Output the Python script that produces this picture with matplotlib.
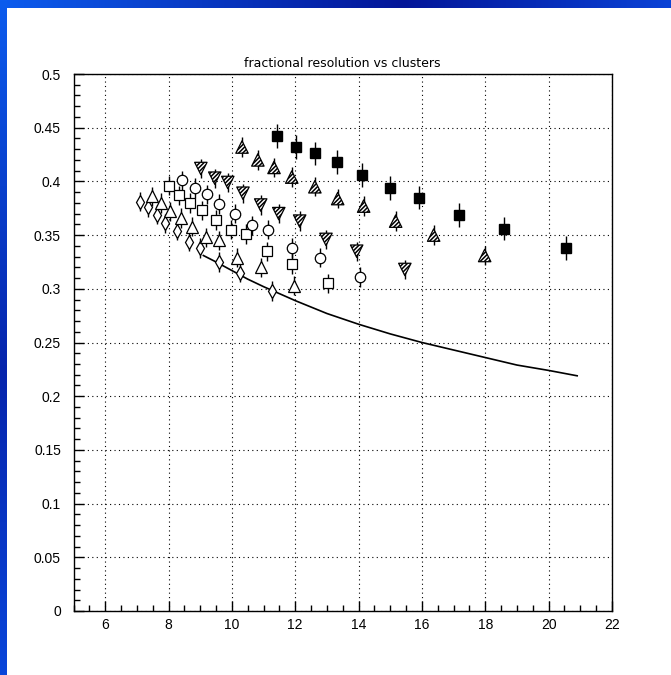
import matplotlib
matplotlib.use("Agg")
import matplotlib.pyplot as plt
import numpy as np

# values
sq_full_x = [11.42, 12.02, 12.62, 13.31, 14.10, 14.98, 15.90, 17.16, 18.58, 20.54]
sq_full_y = [0.442, 0.432, 0.426, 0.418, 0.406, 0.394, 0.385, 0.369, 0.356, 0.338]

tri_up_h_x = [10.32, 10.82, 11.33, 11.89, 12.62, 13.34, 14.16, 15.17, 16.37, 17.98]
tri_up_h_y = [0.432, 0.420, 0.413, 0.404, 0.395, 0.384, 0.377, 0.363, 0.350, 0.331]

tri_dn_h_x = [9.02, 9.46, 9.87, 10.35, 10.91, 11.48, 12.14, 12.97, 13.94, 15.46]
tri_dn_h_y = [0.412, 0.403, 0.399, 0.389, 0.378, 0.370, 0.363, 0.346, 0.335, 0.318]

circ_x = [8.42, 8.83, 9.21, 9.59, 10.09, 10.63, 11.14, 11.89, 12.78, 14.04]
circ_y = [0.401, 0.394, 0.388, 0.379, 0.370, 0.359, 0.355, 0.338, 0.329, 0.311]

sq_open_x = [8.01, 8.33, 8.67, 9.05, 9.50, 9.97, 10.44, 11.10, 11.89, 13.03]
sq_open_y = [0.396, 0.387, 0.380, 0.373, 0.364, 0.355, 0.351, 0.335, 0.323, 0.305]

tri_open_x = [7.48, 7.76, 8.04, 8.39, 8.74, 9.18, 9.59, 10.16, 10.91, 11.96]
tri_open_y = [0.386, 0.380, 0.372, 0.366, 0.358, 0.348, 0.345, 0.329, 0.320, 0.303]

diam_x = [7.10, 7.35, 7.63, 7.89, 8.26, 8.65, 9.00, 9.60, 10.26, 11.27]
diam_y = [0.381, 0.376, 0.369, 0.361, 0.354, 0.344, 0.338, 0.325, 0.315, 0.298]

curve_x = [9.1, 9.5, 10, 10.5, 11, 12, 13, 14, 15, 16, 17, 18, 19, 20, 20.9]
curve_y = [0.331, 0.325, 0.317, 0.309, 0.302, 0.289, 0.277, 0.267, 0.258,
           0.250, 0.243, 0.236, 0.229, 0.224, 0.219]

x_ticks = [6, 8, 10, 12, 14, 16, 18, 20, 22]
y_ticks = [0, 0.05, 0.1, 0.15, 0.2, 0.25, 0.3, 0.35, 0.4, 0.45, 0.5]
y_tick_labels = ["0", "0.05", "0.1", "0.15", "0.2", "0.25", "0.3", "0.35", "0.4", "0.45", "0.5"]

plt.rcParams['font.family'] = ['Liberation Sans', 'DejaVu Sans']
plt.rcParams['hatch.linewidth'] = 1.1

W, H = 671, 675
fig = plt.figure(figsize=(W / 100, H / 100), dpi=100)
fig.patch.set_facecolor("white")

######### BLUE FRAME #########

def gradient(stops, n):
    pos = [s[0] for s in stops]
    cols = np.array([s[1] for s in stops], dtype=float) / 255.0
    t = np.linspace(0, 1, n)
    return np.stack([np.interp(t, pos, cols[:, k]) for k in range(3)], axis=-1)

top_strip = fig.add_axes([0, 1 - 8.5 / H, 1, 8.5 / H])
top_strip.imshow(gradient([(0, (12, 92, 238)), (0.6, (4, 22, 152)), (1, (10, 66, 214))], 300)[None, :, :],
                 aspect="auto", extent=[0, 1, 0, 1])
top_strip.axis("off")

left_strip = fig.add_axes([0, 0, 6.5 / W, 1])
left_strip.imshow(gradient([(0, (12, 92, 238)), (0.55, (6, 36, 172)), (1, (10, 70, 218))], 300)[:, None, :],
                  aspect="auto", extent=[0, 1, 0, 1])
left_strip.axis("off")

######### MAIN PLOT #########

ax = fig.add_axes([73.5 / W, 1 - 611 / H, (612 - 73.5) / W, (611 - 74) / H])
ax.set_xlim(5, 22)
ax.set_ylim(0, 0.5)

ebar = dict(fmt="none", ecolor="black", elinewidth=1.0, capsize=0, zorder=2)

# fitted curve
ax.plot(curve_x, curve_y, "-", color="black", lw=1.2, zorder=2)

ax.errorbar(diam_x, diam_y, yerr=0.009, **ebar)
ax.plot(diam_x, diam_y, "d", ms=7, mfc="white", mec="black", mew=0.9, ls="none", zorder=3)

ax.errorbar(tri_open_x, tri_open_y, yerr=0.009, **ebar)
ax.plot(tri_open_x, tri_open_y, "^", ms=9, mfc="white", mec="black", mew=0.9, ls="none", zorder=3)

ax.errorbar(sq_open_x, sq_open_y, yerr=0.009, **ebar)
ax.plot(sq_open_x, sq_open_y, "s", ms=7.5, mfc="white", mec="black", mew=0.9, ls="none", zorder=3)

ax.errorbar(circ_x, circ_y, yerr=0.009, **ebar)
ax.plot(circ_x, circ_y, "o", ms=7.5, mfc="white", mec="black", mew=0.9, ls="none", zorder=3)

ax.errorbar(tri_dn_h_x, tri_dn_h_y, yerr=0.009, **ebar)
ax.scatter(tri_dn_h_x, tri_dn_h_y, marker="v", s=80, facecolor="white", edgecolor="black",
           hatch="////////", linewidths=0.9, zorder=3)

ax.errorbar(tri_up_h_x, tri_up_h_y, yerr=0.009, **ebar)
ax.scatter(tri_up_h_x, tri_up_h_y, marker="^", s=80, facecolor="white", edgecolor="black",
           hatch="////////", linewidths=0.9, zorder=3)

ax.errorbar(sq_full_x, sq_full_y, yerr=0.011, **ebar)
ax.plot(sq_full_x, sq_full_y, "s", ms=7.5, mfc="black", mec="black", ls="none", zorder=3)

ax.set_title("fractional resolution vs clusters", fontsize=9, pad=5, family=['DejaVu Sans'])

ax.set_xticks(x_ticks)
ax.set_xticklabels([str(t) for t in x_ticks])
ax.set_xticks(np.arange(5, 22.01, 0.5), minor=True)
ax.set_yticks(y_ticks)
ax.set_yticklabels(y_tick_labels)
ax.set_yticks(np.arange(0, 0.5001, 0.01), minor=True)

ax.tick_params(which="both", direction="in", top=False, right=False, labelsize=10, colors="black")
ax.tick_params(which="major", length=7, width=1)
ax.tick_params(which="minor", length=4, width=1)
ax.tick_params(axis="y", pad=9)
ax.tick_params(axis="x", pad=5)

ax.grid(True, which="major", linestyle=(0, (1, 3)), color="black", lw=0.8)
for s in ax.spines.values():
    s.set_linewidth(1.0)

plt.savefig("out.png", dpi=100)
plt.close()
